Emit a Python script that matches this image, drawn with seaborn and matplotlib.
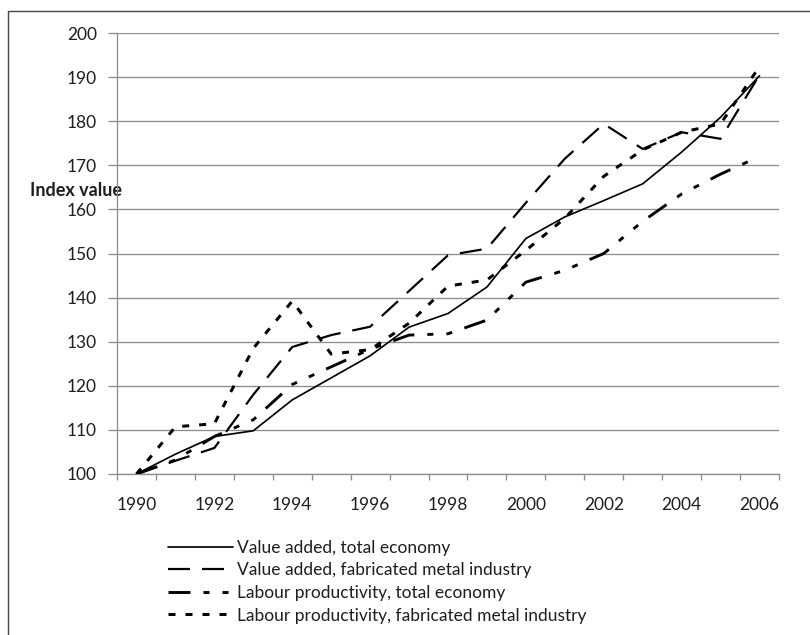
import matplotlib
matplotlib.use("Agg")
import matplotlib.pyplot as plt
from matplotlib.lines import Line2D
import pandas as pd
import seaborn as sns

# ---- data -------------------------------------------------------------
years = list(range(1990, 2007))
value_added_total = [100, 104.5, 108.5, 109.8, 116.8, 121.8, 126.8, 133.3, 136.4,
                     142.4, 153.4, 158.3, 162.0, 165.8, 173.0, 180.9, 190.3]
value_added_metal = [100, 103.0, 105.9, 118.0, 128.8, 131.5, 133.4, 141.5, 149.6,
                     151.1, 161.5, 171.5, 179.4, 173.7, 177.5, 176.0, 190.5]
labour_prod_total = [100, 103.2, 108.5, 112.3, 120.3, 124.3, 128.3, 131.5, 131.8,
                     134.9, 143.5, 146.2, 150.0, 157.3, 163.5, 168.0, 172.0]
labour_prod_metal = [100, 110.7, 111.4, 128.5, 139.2, 127.2, 128.2, 134.2, 142.6,
                     144.0, 150.7, 158.0, 167.5, 173.5, 177.5, 179.4, 192.4]
series_names = [
    "Value added, total economy",
    "Value added, fabricated metal industry",
    "Labour productivity, total economy",
    "Labour productivity, fabricated metal industry",
]
y_ticks = list(range(100, 201, 10))
x_label_years = list(range(1990, 2007, 2))
y_title = "Index value"

df = pd.DataFrame({
    "year": years * 4,
    "value": value_added_total + value_added_metal + labour_prod_total + labour_prod_metal,
    "series": [n for n in series_names for _ in years],
})

# ---- styling ----------------------------------------------------------
DPI = 100
W, H = 810, 635
PT = 72 / DPI                     # points per pixel
GRID = "#8c8c8c"
TEXT = "#1e1e1e"

# (line width px, dash pattern px)
line_styles = [
    (1.7, None),
    (2.2, (22, 12)),
    (2.9, (22, 13, 6, 13, 6, 13)),
    (3.0, (7, 10)),
]


def mpl_linestyle(lw_px, pattern):
    if pattern is None:
        return "-"
    return (0, tuple(p / lw_px for p in pattern))


sns.set_theme(style="white")
plt.rcParams["font.family"] = ["Lato", "DejaVu Sans"]
plt.rcParams["text.color"] = TEXT
plt.rcParams["axes.labelcolor"] = TEXT
plt.rcParams["xtick.color"] = TEXT
plt.rcParams["ytick.color"] = TEXT

fig = plt.figure(figsize=(W / DPI, H / DPI), dpi=DPI)
fig.patch.set_facecolor("white")

ax_l, ax_r, ax_t, ax_b = 117, 779, 33, 474
ax = fig.add_axes([ax_l / W, 1 - ax_b / H, (ax_r - ax_l) / W, (ax_b - ax_t) / H])
ax.set_facecolor("white")

for name, (lw, pat) in zip(series_names, line_styles):
    sub = df[df["series"] == name]
    sns.lineplot(data=sub, x="year", y="value", ax=ax, color="black",
                 linewidth=lw * PT, linestyle=mpl_linestyle(lw, pat),
                 estimator=None, legend=False, zorder=3)

# axes
ax.set_xlim(years[0] - 0.5, years[-1] + 0.5)
ax.set_ylim(y_ticks[0], y_ticks[-1])
ax.set_yticks(y_ticks)
ax.set_xticks(x_label_years)
ax.set_xticklabels([str(y) for y in x_label_years])
ax.set_xticks([y - 0.5 for y in years] + [years[-1] + 0.5], minor=True)
ax.set_xlabel("")

ax.yaxis.grid(True, color=GRID, linewidth=1.3 * PT, zorder=0)
ax.xaxis.grid(False)
for s in ["top", "right"]:
    ax.spines[s].set_visible(False)
for s in ["left", "bottom"]:
    ax.spines[s].set_color(GRID)
    ax.spines[s].set_linewidth(1.3 * PT)

ax.tick_params(axis="y", which="major", left=True, length=9 * PT, width=1.3 * PT,
               color=GRID, direction="out", pad=11 * PT, labelsize=12.5)
ax.tick_params(axis="x", which="major", bottom=True, length=0, pad=23 * PT,
               labelsize=12.5)
ax.tick_params(axis="x", which="minor", bottom=True, length=6 * PT, width=1.3 * PT,
               color=GRID, direction="out")

ax.set_ylabel(y_title, rotation=0, fontweight="bold", fontsize=13,
              ha="left", va="center")
ax.yaxis.set_label_coords((30 - ax_l) / (ax_r - ax_l), (ax_b - 190) / (ax_b - ax_t))

# legend below the plot
legend_fs = 12.5
fs_px = legend_fs / PT
handles = [Line2D([], [], color="black", linewidth=lw * PT,
                  linestyle=mpl_linestyle(lw, pat))
           for lw, pat in line_styles]
fig.legend(handles, series_names, loc="upper left",
           bbox_to_anchor=(168 / W, 1 - 540 / H), bbox_transform=fig.transFigure,
           frameon=False, fontsize=legend_fs, borderpad=0, borderaxespad=0,
           handlelength=65 / fs_px, handletextpad=4 / fs_px,
           labelspacing=6.5 / fs_px, handleheight=0.7)

# outer frame (left and top edges)
frame_kw = dict(color="#4a4a4a", linewidth=1.4 * PT, transform=fig.transFigure)
fig.add_artist(Line2D([8 / W, 8 / W], [0, 1 - 11 / H], **frame_kw))
fig.add_artist(Line2D([8 / W, 1], [1 - 11 / H, 1 - 11 / H], **frame_kw))

fig.savefig("out.png", dpi=DPI, facecolor="white")
